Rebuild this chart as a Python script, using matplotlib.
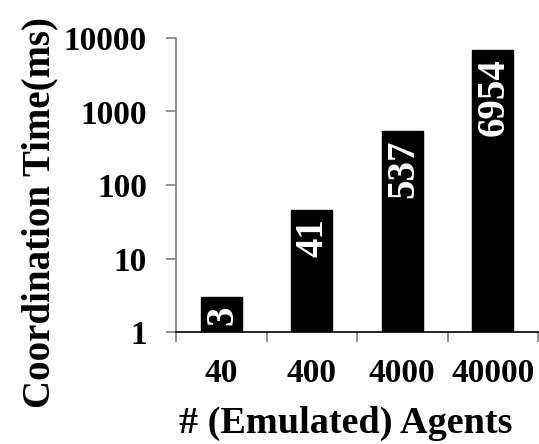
import matplotlib
matplotlib.use("Agg")
import matplotlib.pyplot as plt
import numpy as np

categories = ["40", "400", "4000", "40000"]
values = [3, 46, 537, 6954]
bar_labels = ["3", "41", "537", "6954"]
yticks = [1, 10, 100, 1000, 10000]
ytick_labels = ["1", "10", "100", "1000", "10000"]

plt.rcParams['font.family'] = ['Liberation Serif', 'DejaVu Serif']
plt.rcParams['font.weight'] = 'bold'

fig = plt.figure(figsize=(5.39, 4.44), dpi=100)
ax = fig.add_axes([176/539, (444-332)/444, (538-176)/539, (332-38)/444])

x = np.arange(len(categories))
bars = ax.bar(x, values, width=0.45, color='black', edgecolor='black', bottom=0)
ax.set_yscale('log')
ax.set_ylim(1, 10000)
ax.set_xlim(-0.5, len(categories) - 0.5)

ax.set_yticks(yticks)
ax.set_yticklabels(ytick_labels)
ax.yaxis.set_minor_locator(matplotlib.ticker.NullLocator())
ax.tick_params(axis='y', which='major', direction='out', length=7, width=1.2,
               color='#7f7f7f', labelsize=24, pad=14)

ax.set_xticks(np.arange(len(categories) + 1) - 0.5)
ax.set_xticklabels([])
ax.set_xticks(x, minor=True)
ax.set_xticklabels(categories, minor=True)
ax.tick_params(axis='x', which='major', direction='out', length=7, width=1.2, color='#7f7f7f')
ax.tick_params(axis='x', which='minor', length=0, labelsize=24, pad=19)

for s in ['top', 'right']:
    ax.spines[s].set_visible(False)
ax.spines['left'].set_color('#7f7f7f')
ax.spines['left'].set_linewidth(1.2)
ax.spines['bottom'].set_color('black')
ax.spines['bottom'].set_linewidth(1.2)

for xi, v, lab in zip(x, values, bar_labels):
    ax.annotate(lab, xy=(xi, v), xytext=(1, -6), textcoords='offset points',
                rotation=90, ha='center', va='top', color='white',
                fontsize=28, fontweight='bold')

ax.set_ylabel("Coordination Time(ms)", fontsize=28, fontweight='bold')
ax.set_xlabel("# (Emulated) Agents", fontsize=27.5, fontweight='bold')
ax.yaxis.set_label_coords((58 - 176) / 362, (332 - 212) / 294)
ax.xaxis.set_label_coords((346 - 176) / 362, (332 - 406) / 294)

fig.savefig("out.png", dpi=100)
